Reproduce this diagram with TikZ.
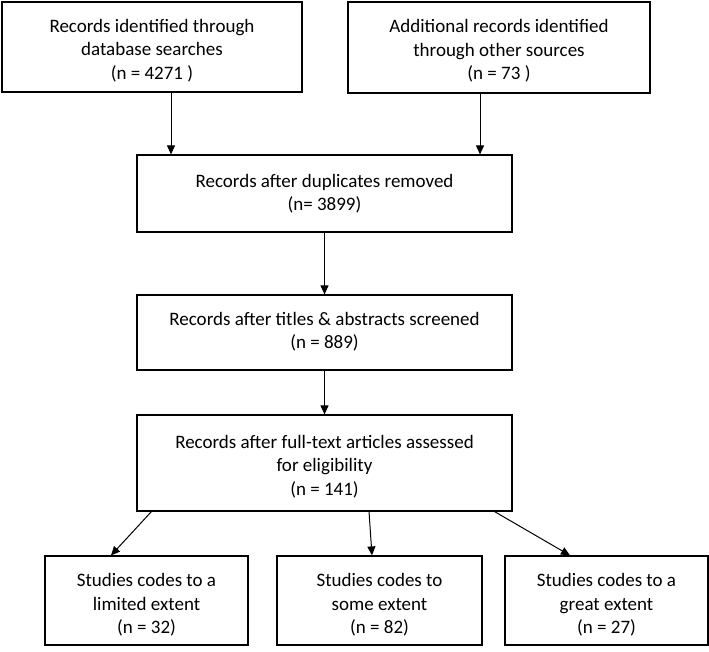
\documentclass[tikz,border=0pt]{standalone}
\usepackage{fontspec}
\setmainfont{Carlito}
\usetikzlibrary{arrows.meta}
\newcommand{\boxtext}[2]{\raisebox{-#1}[\height][\depth]{\begin{tabular}{@{}c@{}}#2\end{tabular}}}
\begin{document}
\begin{tikzpicture}[x=1pt,y=-1pt,
  box/.style={draw=black, line width=1.2pt, inner sep=0pt, align=center,
    font=\fontsize{19}{23.5}\selectfont},
  arr/.style={line width=1pt, -{Triangle[length=9pt,width=8pt]}}]
\useasboundingbox (0,0) rectangle (709,651);
\node[box, minimum width=300pt, minimum height=90pt] (b1) at (152,47)
  {\boxtext{4pt}{Records identified through\\database searches\\(n = 4271 )}};
\node[box, minimum width=302pt, minimum height=91pt] (b2) at (499,47.5)
  {\boxtext{4pt}{Additional records identified\\through other sources\\(n = 73 )}};
\node[box, minimum width=375pt, minimum height=77pt] (b3) at (324.5,193.5)
  {\boxtext{1pt}{Records after duplicates removed\\(n= 3899)}};
\node[box, minimum width=375pt, minimum height=75pt] (b4) at (324.5,332.5)
  {\boxtext{0pt}{Records after titles \& abstracts screened\\(n = 889)}};
\node[box, minimum width=375pt, minimum height=96pt] (b5) at (324.5,463)
  {\boxtext{4pt}{Records after full-text articles assessed\\for eligibility\\(n = 141)}};
\node[box, minimum width=203pt, minimum height=89pt] (l) at (146.5,600.5)
  {\boxtext{5pt}{Studies codes to a\\limited extent\\(n = 32)}};
\node[box, minimum width=205pt, minimum height=89pt] (m) at (379.5,600.5)
  {\boxtext{5pt}{Studies codes to\\some extent\\(n = 82)}};
\node[box, minimum width=203pt, minimum height=89pt] (r) at (606.5,600.5)
  {\boxtext{5pt}{Studies codes to a\\great extent\\(n = 27)}};
\draw[arr] ([xshift=19pt]b1.south) -- ([xshift=19pt]b1.south |- b3.north);
\draw[arr] ([xshift=-19pt]b2.south) -- ([xshift=-19pt]b2.south |- b3.north);
\draw[arr] (b3.south) -- (b4.north);
\draw[arr] (b4.south) -- (b5.north);
\draw[arr] ([xshift=15pt]b5.south west) -- ([xshift=-35.5pt]l.north);
\draw[arr] ([xshift=44.5pt]b5.south) -- ([xshift=-7.5pt]m.north);
\draw[arr] ([xshift=-18pt]b5.south east) -- ([xshift=-36.5pt]r.north);
\end{tikzpicture}
\end{document}
